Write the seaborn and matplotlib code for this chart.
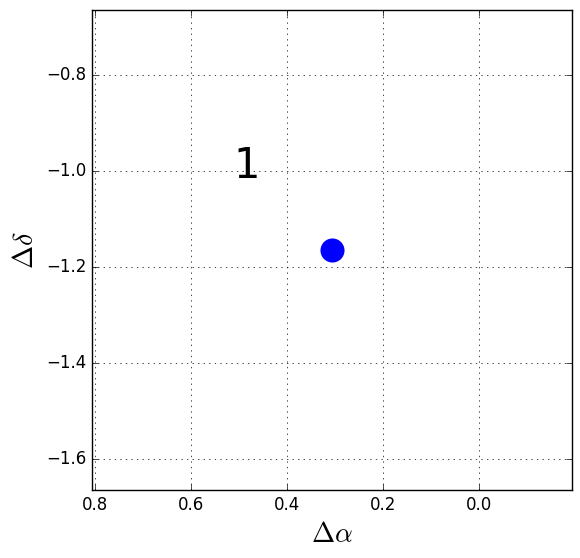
import matplotlib
matplotlib.use("Agg")
import matplotlib.pyplot as plt
import seaborn as sns
import pandas as pd

# offsets of the source
labels = ["1"]
d_alpha = [0.307]
d_delta = [-1.165]

plt.style.use("classic")

df = pd.DataFrame({"dalpha": d_alpha, "ddelta": d_delta, "label": labels})

fig = plt.figure(figsize=(5.8, 5.58), dpi=100, facecolor="white")
ax = fig.add_axes([92 / 580, 1 - 490 / 558, 480 / 580, 480 / 558])

sns.scatterplot(data=df, x="dalpha", y="ddelta", ax=ax, color="blue",
                s=300, edgecolor="blue", linewidth=0, legend=False)

for _, row in df.iterrows():
    ax.text(row["dalpha"] + 0.205, row["ddelta"] + 0.15, row["label"], fontsize=30)

ax.set_xlim(d_alpha[0] + 0.5, d_alpha[0] - 0.5)
ax.set_ylim(d_delta[0] - 0.5, d_delta[0] + 0.5)
ax.set_xticks([0.8, 0.6, 0.4, 0.2, 0.0])
ax.set_yticks([-1.6, -1.4, -1.2, -1.0, -0.8])
ax.grid(True)
ax.set_xlabel(r"$\Delta\alpha$", fontsize=20)
ax.set_ylabel(r"$\Delta\delta$", fontsize=20)

fig.savefig("out.png", dpi=100, facecolor="white")
